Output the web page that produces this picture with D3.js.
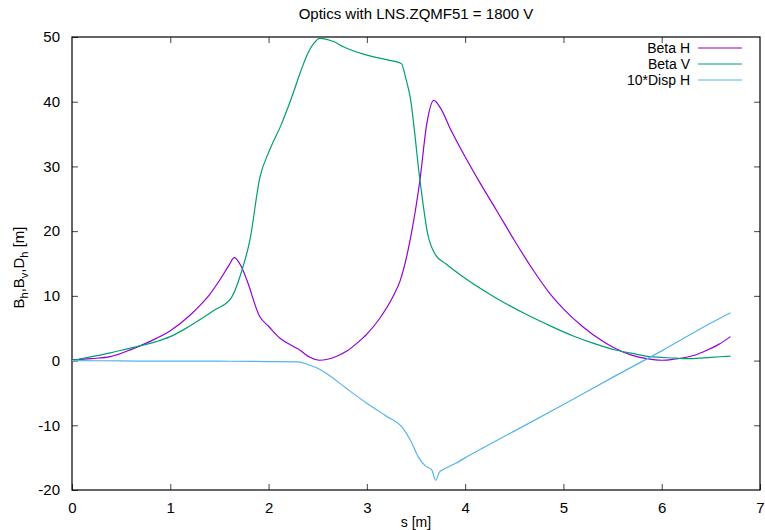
<!DOCTYPE html>
<html><head><meta charset="utf-8">
<script src="https://cdn.jsdelivr.net/npm/d3@7"></script>
<style>
html,body{margin:0;padding:0;background:#fff;}
text{font-family:"Liberation Sans",Arial,sans-serif;}
</style></head>
<body>
<svg id="chart" width="765" height="530"></svg>
<script>
const title = "Optics with LNS.ZQMF51 = 1800 V";
const xTicks = [0,1,2,3,4,5,6,7];
const yTicks = [-20,-10,0,10,20,30,40,50];
const seriesNames = ["Beta H","Beta V","10*Disp H"];
const seriesColors = ["#9400d3","#009e73","#56b4e9"];

const betaHs = [0,0.2,0.39,0.6,0.8,1.0,1.2,1.3,1.4,1.51,1.6,1.65,1.72,1.78,1.91,2.0,2.12,2.25,2.32,2.42,2.52,2.6,2.7,2.8,2.9,3.0,3.13,3.27,3.34,3.44,3.54,3.61,3.68,3.75,3.85,4.0,4.15,4.32,4.5,4.7,4.86,5.0,5.2,5.4,5.54,5.7,5.85,6.0,6.12,6.21,6.35,6.46,6.58,6.7];
const betaH  = [0.1,0.3,0.6,1.7,3.0,4.6,7.0,8.5,10.2,12.6,14.8,15.9,14.6,12.4,6.8,5.3,3.4,2.2,1.6,0.5,0.05,0.2,0.7,1.5,2.7,4.1,6.5,10.0,12.4,18.6,27.9,36.6,40.2,39.0,35.8,31.5,27.5,23.2,18.6,13.8,10.4,8.0,5.2,3.0,1.8,0.8,0.3,0.05,0.2,0.4,0.9,1.6,2.5,3.7];

const betaVs = [0,0.2,0.39,0.5,0.67,0.85,1.0,1.15,1.3,1.45,1.62,1.73,1.81,1.91,2.01,2.13,2.25,2.32,2.4,2.46,2.52,2.6,2.66,2.76,3.0,3.2,3.35,3.4,3.44,3.54,3.62,3.7,3.8,4.01,4.3,4.6,4.86,5.1,5.3,5.54,5.7,5.88,6.1,6.29,6.5,6.7];
const betaV  = [0,0.6,1.2,1.6,2.2,2.9,3.7,4.9,6.3,7.8,9.7,14.0,18.6,28.2,32.5,36.5,41.3,44.4,47.5,49.0,49.8,49.6,49.3,48.5,47.2,46.5,45.9,43.4,40.8,27.9,19.5,16.3,15.0,12.6,9.8,7.3,5.4,3.8,2.7,1.6,1.1,0.6,0.4,0.3,0.5,0.7];

const dispS = [0,0.5,1.0,1.5,2.0,2.3,2.4,2.5,2.59,2.8,3.0,3.2,3.37,3.45,3.52,3.59,3.66,3.7,3.74,3.77,3.9,4.05,4.5,5.0,5.5,6.0,6.5,6.7];
const disp  = [0,-0.05,-0.1,-0.1,-0.15,-0.2,-0.6,-1.2,-2.0,-4.4,-6.6,-8.6,-10.5,-12.5,-14.8,-16.2,-16.9,-18.5,-17.2,-16.9,-15.9,-14.6,-10.9,-6.8,-2.6,1.5,5.8,7.4];

const svg = d3.select("#chart");
const L=72, R=760, T=37, B=490;
const x = d3.scaleLinear().domain([0,7]).range([L,R]);
const y = d3.scaleLinear().domain([-20,50]).range([B,T]);
const fmt = d => String(d);
const FS = 15;

const tickLen = 6;
svg.append("g").attr("transform",`translate(0,${B})`)
  .call(d3.axisBottom(x).tickValues(xTicks).tickSize(-tickLen).tickPadding(12).tickFormat(fmt))
  .call(g=>{g.select(".domain").remove();g.selectAll("line").attr("stroke","#444");g.selectAll("text").attr("font-size",FS).attr("fill","#000");});
svg.append("g").attr("transform",`translate(0,${T})`)
  .call(d3.axisTop(x).tickValues(xTicks.slice(1,-1)).tickSize(-tickLen).tickFormat(""))
  .call(g=>{g.select(".domain").remove();g.selectAll("line").attr("stroke","#444");});
svg.append("g").attr("transform",`translate(${L},0)`)
  .call(d3.axisLeft(y).tickValues(yTicks).tickSize(-tickLen).tickPadding(12).tickFormat(fmt))
  .call(g=>{g.select(".domain").remove();g.selectAll("line").attr("stroke","#444");g.selectAll("text").attr("font-size",FS).attr("fill","#000");});
svg.append("g").attr("transform",`translate(${R},0)`)
  .call(d3.axisRight(y).tickValues(yTicks.slice(1,-1)).tickSize(-tickLen).tickFormat(""))
  .call(g=>{g.select(".domain").remove();g.selectAll("line").attr("stroke","#444");});

svg.append("rect").attr("x",L).attr("y",T).attr("width",R-L).attr("height",B-T)
  .attr("fill","none").attr("stroke","#000").attr("stroke-width",1.2);

const line = d3.line().x(d=>x(d[0])).y(d=>y(d[1])).curve(d3.curveMonotoneX);
const seriesData = [
  d3.zip(betaHs,betaH),
  d3.zip(betaVs,betaV),
  d3.zip(dispS,disp)
];
svg.append("g").selectAll("path.s").data(seriesData).join("path")
  .attr("class","s").attr("d",line).attr("fill","none")
  .attr("stroke",(d,i)=>seriesColors[i]).attr("stroke-width",1.2);

const lg = svg.append("g");
seriesNames.forEach((n,i)=>{
  const yy = 48 + i*16;
  lg.append("text").attr("x",690).attr("y",yy).attr("dy","0.35em").attr("text-anchor","end")
    .attr("font-size",14).text(n);
  lg.append("line").attr("x1",698).attr("x2",742).attr("y1",yy).attr("y2",yy)
    .attr("stroke",seriesColors[i]).attr("stroke-width",1.2);
});

svg.append("text").attr("x",(L+R)/2).attr("y",19).attr("text-anchor","middle").attr("font-size",FS).text(title);
svg.append("text").attr("x",(L+R)/2).attr("y",527).attr("text-anchor","middle").attr("font-size",14).text("s [m]");
const yl = svg.append("text").attr("transform",`translate(24,${(T+B)/2+4}) rotate(-90)`).attr("text-anchor","middle").attr("font-size",FS);
yl.append("tspan").text("B");
yl.append("tspan").attr("font-size",11).attr("dy",4).text("h");
yl.append("tspan").attr("dy",-4).text(",B");
yl.append("tspan").attr("font-size",11).attr("dy",4).text("v");
yl.append("tspan").attr("dy",-4).text(",D");
yl.append("tspan").attr("font-size",11).attr("dy",4).text("h");
yl.append("tspan").attr("dy",-4).text(" [m]");
</script>
</body></html>
